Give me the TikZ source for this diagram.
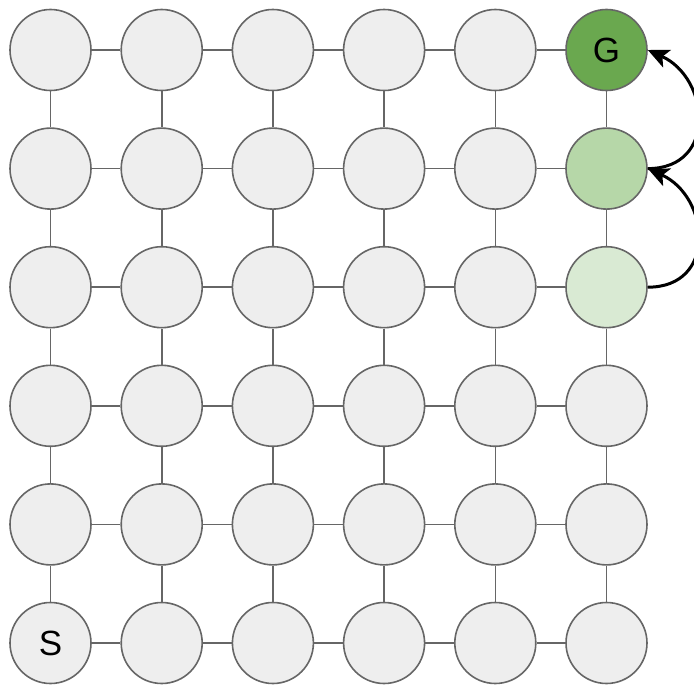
\documentclass[tikz,border=0pt]{standalone}
\usepackage{fontspec}
\setmainfont{Liberation Sans}
\usetikzlibrary{arrows.meta}
\definecolor{nodefill}{HTML}{EEEEEE}
\definecolor{nodeline}{HTML}{666666}
\definecolor{gdark}{HTML}{6AA84F}
\definecolor{gmid}{HTML}{B6D7A8}
\definecolor{glight}{HTML}{D9EAD3}
\begin{document}
\begin{tikzpicture}[x=1pt,y=-1pt,
  cell/.style={circle, draw=nodeline, fill=nodefill, line width=1.6pt,
    minimum size=81pt, inner sep=0pt, font=\fontsize{35}{40}\selectfont},
  c50/.style={fill=gdark},
  c51/.style={fill=gmid},
  c52/.style={fill=glight},
  link/.style={draw=nodeline, line width=1.6pt},
  flow/.style={draw=black, line width=3pt,
    -{Stealth[length=21pt, width=19pt, inset=5pt]}}]
\useasboundingbox (0,0) rectangle (694,685);
\foreach \i in {0,...,5}{
  \foreach \j in {0,...,5}{
    \node[cell, c\i\j/.try] (n\i\j) at ({50.5+111.2*\i},{50+118.6*\j})
      {\ifnum\i\j=50 G\fi\ifnum\i\j=5 S\fi};
  }
}
\foreach \i/\k in {0/1,1/2,2/3,3/4,4/5}{
  \foreach \j in {0,...,5}{
    \draw[link] (n\i\j) -- (n\k\j);
    \draw[link] (n\j\i) -- (n\j\k);
  }
}
\draw[flow] (n52.east) .. controls +(70,0) and +(62,28) .. (n51.east);
\draw[flow] (n51.east) .. controls +(70,0) and +(62,28) .. (n50.east);
\end{tikzpicture}
\end{document}
